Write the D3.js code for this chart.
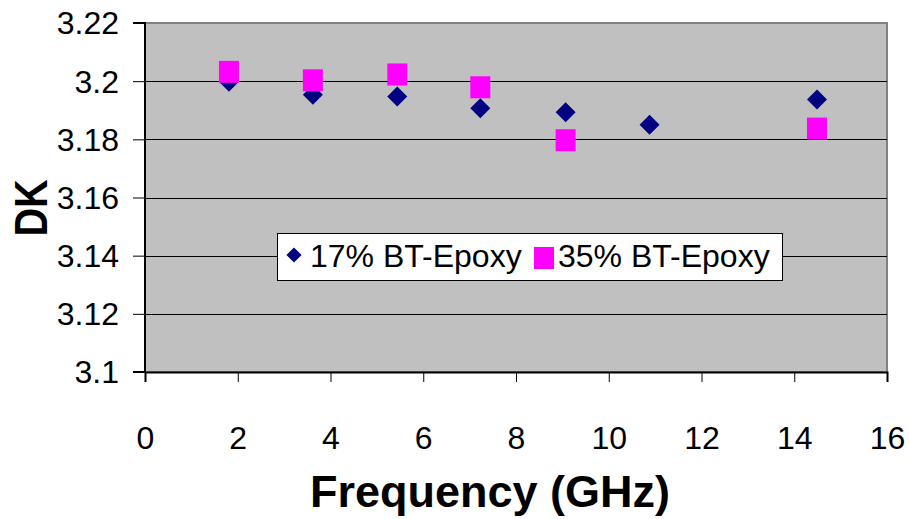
<!DOCTYPE html>
<html>
<head>
<meta charset="utf-8">
<script src="https://cdn.jsdelivr.net/npm/d3@7"></script>
<style>
  body { margin: 0; background: #fff; }
  text { font-family: Arial, "Liberation Sans", sans-serif; }
</style>
</head>
<body>
<div id="chart"></div>
<script>
// data
const freq17 = [1.81, 3.62, 5.44, 7.23, 9.07, 10.88, 14.49];
const dk17 = [3.1998, 3.1953, 3.1947, 3.1907, 3.1893, 3.185, 3.1937];
const freq35 = [1.81, 3.62, 5.44, 7.23, 9.07, 14.49];
const dk35 = [3.2032, 3.2003, 3.2023, 3.1979, 3.1797, 3.1837];
const xTicks = [0, 2, 4, 6, 8, 10, 12, 14, 16];
const yTicks = [3.1, 3.12, 3.14, 3.16, 3.18, 3.2, 3.22];
const seriesNames = ['17% BT-Epoxy', '35% BT-Epoxy'];

const W = 909, H = 519;
const plot = { left: 145, top: 23, right: 887, bottom: 372 };

const svg = d3.select('#chart').append('svg')
    .attr('width', W)
    .attr('height', H);

const x = d3.scaleLinear().domain([0, 16]).range([plot.left, plot.right]);
const y = d3.scaleLinear().domain([3.1, 3.22]).range([plot.bottom, plot.top]);

// plot background
svg.append('rect')
    .attr('x', plot.left)
    .attr('y', plot.top)
    .attr('width', plot.right - plot.left)
    .attr('height', plot.bottom - plot.top)
    .attr('fill', '#c0c0c0')
    .attr('stroke', '#808080')
    .attr('stroke-width', 2);

// gridlines
svg.append('g')
    .selectAll('line')
    .data(yTicks.filter(d => d > 3.1 && d < 3.22))
    .join('line')
    .attr('x1', plot.left)
    .attr('x2', plot.right)
    .attr('y1', d => Math.round(y(d)) + 0.5)
    .attr('y2', d => Math.round(y(d)) + 0.5)
    .attr('stroke', '#000')
    .attr('stroke-width', 1);

// axes
const yAxis = svg.append('g')
    .attr('transform', `translate(${plot.left},0)`)
    .call(d3.axisLeft(y).tickValues(yTicks).tickFormat(d3.format('')).tickSize(12).tickPadding(14));
const xAxis = svg.append('g')
    .attr('transform', `translate(0,${plot.bottom})`)
    .call(d3.axisBottom(x).tickValues(xTicks).tickSize(10).tickPadding(46));

[yAxis, xAxis].forEach(a => {
    a.select('.domain').attr('stroke', '#000').attr('stroke-width', 2);
    a.selectAll('.tick line').attr('stroke', '#000');
    a.selectAll('.tick text')
        .attr('font-size', 32)
        .attr('font-family', 'Arial, "Liberation Sans", sans-serif')
        .attr('fill', '#000');
});
yAxis.selectAll('.tick text').text(d => String(+d.toFixed(2))).attr('dy', '0.34em');
xAxis.selectAll('.tick text').attr('dy', '0.66em');
yAxis.select('.domain').attr('d', `M-12,${plot.top}H0V${plot.bottom}H-12`);

// markers
const diamond = d3.symbol().type(d3.symbolSquare).size(200);
svg.append('g')
    .selectAll('path')
    .data(freq17.map((f, i) => [f, dk17[i]]))
    .join('path')
    .attr('d', diamond)
    .attr('transform', d => `translate(${x(d[0])},${y(d[1])}) rotate(45)`)
    .attr('fill', '#000080');

svg.append('g')
    .selectAll('rect')
    .data(freq35.map((f, i) => [f, dk35[i]]))
    .join('rect')
    .attr('x', d => x(d[0]) - 10)
    .attr('y', d => y(d[1]) - 11)
    .attr('width', 20)
    .attr('height', 22)
    .attr('fill', '#ff00ff');

// legend
const legend = svg.append('g').attr('transform', 'translate(277,233)');
legend.append('rect')
    .attr('x', 0.5).attr('y', 0.5)
    .attr('width', 505).attr('height', 47)
    .attr('fill', '#fff')
    .attr('stroke', '#000');
legend.append('path')
    .attr('d', d3.symbol().type(d3.symbolSquare).size(115))
    .attr('transform', 'translate(17,22) rotate(45)')
    .attr('fill', '#000080');
legend.append('rect')
    .attr('x', 257).attr('y', 14)
    .attr('width', 20).attr('height', 22)
    .attr('fill', '#ff00ff');
legend.selectAll('text.lbl')
    .data(seriesNames)
    .join('text')
    .attr('class', 'lbl')
    .attr('x', (d, i) => i === 0 ? 33 : 281)
    .attr('y', 34)
    .attr('font-size', 32)
    .text(d => d);

// axis titles
svg.append('text')
    .attr('x', 490)
    .attr('y', 507)
    .attr('text-anchor', 'middle')
    .attr('font-size', 45)
    .attr('font-weight', 'bold')
    .text('Frequency (GHz)');

svg.append('text')
    .attr('transform', 'translate(47,208) rotate(-90) scale(0.86,1)')
    .attr('text-anchor', 'middle')
    .attr('font-size', 46)
    .attr('font-weight', 'bold')
    .text('DK');
</script>
</body>
</html>
